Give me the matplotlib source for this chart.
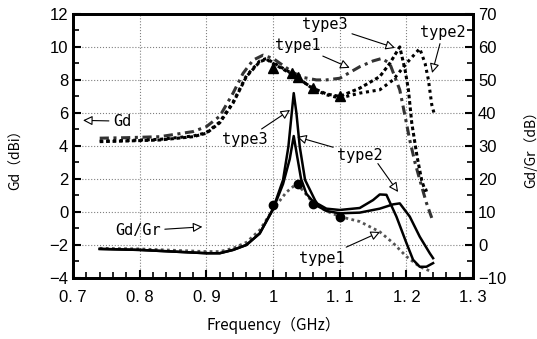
import matplotlib
matplotlib.use('Agg')
from matplotlib import pyplot as plt
from matplotlib.ticker import MultipleLocator, FixedLocator

# Gd (dBi) - eixo esquerdo
f_gd1 = [0.74, 0.78, 0.83, 0.88, 0.90, 0.92, 0.94, 0.955, 0.97, 0.985, 1.0, 1.03, 1.045,
         1.065, 1.08, 1.1, 1.13, 1.15, 1.163, 1.175, 1.19, 1.197, 1.205, 1.213, 1.223, 1.23, 1.238]
gd1 = [4.47, 4.5, 4.56, 4.87, 5.17, 5.8, 7.2, 8.4, 9.2, 9.5, 9.3, 8.45, 8.15,
       8.0, 8.0, 8.1, 8.8, 9.15, 9.3, 9.0, 7.4, 6.0, 4.36, 2.97, 1.53, 0.55, -0.36]

f_gd2 = [0.74, 0.78, 0.83, 0.88, 0.90, 0.92, 0.94, 0.96, 0.98, 0.99, 1.0, 1.03, 1.04,
         1.06, 1.08, 1.1, 1.13, 1.16, 1.18, 1.2, 1.22, 1.228, 1.233, 1.238, 1.242]
gd2 = [4.3, 4.33, 4.4, 4.6, 4.8, 5.45, 6.65, 8.25, 9.15, 9.3, 9.05, 8.35, 8.05,
       7.45, 7.1, 6.9, 7.2, 7.4, 8.0, 9.0, 9.9, 9.0, 8.0, 6.5, 5.9]

f_gd3 = [0.74, 0.78, 0.83, 0.88, 0.90, 0.92, 0.94, 0.96, 0.98, 0.99, 1.0, 1.03, 1.04,
         1.06, 1.08, 1.1, 1.13, 1.16, 1.175, 1.19, 1.198, 1.203, 1.208, 1.216, 1.223, 1.228, 1.235]
gd3 = [4.26, 4.3, 4.36, 4.56, 4.77, 5.4, 6.6, 8.2, 9.1, 9.25, 9.0, 8.3, 8.0,
       7.5, 7.15, 7.0, 7.5, 8.2, 9.0, 10.0, 8.6, 7.4, 5.4, 3.35, 1.9, 1.3, 1.4]

# Gd/Gr (dB) - eixo direito
f_r1 = [0.74, 0.8, 0.85, 0.9, 0.92, 0.94, 0.96, 0.98, 1.0, 1.02, 1.035, 1.045, 1.06,
        1.08, 1.1, 1.13, 1.16, 1.18, 1.2, 1.22, 1.238]
r1 = [-1.0, -1.2, -1.6, -2.0, -2.0, -1.0, 0.8, 4.5, 10.8, 16.0, 18.5, 16.5, 12.7,
      10.3, 8.6, 7.1, 4.0, 0.6, -3.5, -6.6, -8.1]

f_r2 = [0.74, 0.8, 0.85, 0.9, 0.92, 0.94, 0.96, 0.98, 1.0, 1.015, 1.025, 1.031, 1.036,
        1.042, 1.05, 1.065, 1.08, 1.1, 1.13, 1.16, 1.18, 1.19, 1.205, 1.22, 1.235, 1.24]
r2 = [-1.2, -1.5, -2.0, -2.5, -2.5, -1.5, 0.0, 3.5, 10.8, 18.5, 26, 33, 27,
      20, 15.5, 12.0, 10.3, 9.6, 9.8, 11.0, 12.3, 12.6, 8.6, 2.5, -2.5, -4.0]

f_r3 = [0.74, 0.8, 0.85, 0.9, 0.92, 0.94, 0.96, 0.98, 1.0, 1.015, 1.023, 1.028, 1.031,
        1.035, 1.04, 1.048, 1.065, 1.08, 1.1, 1.13, 1.15, 1.16, 1.17, 1.185, 1.2, 1.21,
        1.22, 1.23, 1.24]
r3 = [-1.2, -1.5, -2.0, -2.5, -2.5, -1.5, 0.0, 3.5, 11.0, 19.7, 29.8, 40, 46,
      40, 29.8, 19.7, 12.7, 11.0, 10.6, 11.2, 13.6, 15.3, 15.2, 8.6, 0.6, -4.5,
      -6.6, -6.6, -5.5]

# medidas
f_tri = [1.0, 1.028, 1.038, 1.06, 1.1]
gd_tri = [8.7, 8.4, 8.15, 7.5, 7.0]
f_circ = [1.0, 1.038, 1.06, 1.1]
r_circ = [12.1, 18.6, 12.3, 8.4]

x_ticks = [0.7, 0.8, 0.9, 1.0, 1.1, 1.2, 1.3]
x_labels = ['0. 7', '0. 8', '0. 9', '1', '1. 1', '1. 2', '1. 3']

plt.rcParams['font.family'] = ['Liberation Sans', 'DejaVu Sans']

fig = plt.figure(figsize=(5.37, 3.39), dpi=100)
ax = fig.add_axes([0.136, 0.180, 0.745, 0.779])
ax2 = ax.twinx()

ax.plot(f_gd1, gd1, c='#333333', lw=2.2, ls=(0, (3, 1.5, 1, 1.5)))
ax.plot(f_gd2, gd2, c='black', lw=2.2, ls=(0, (1, 1.2)))
ax.plot(f_gd3, gd3, c='black', lw=2.2, ls=(0, (1.2, 0.9)))
ax.plot(f_tri, gd_tri, ls='none', marker='^', ms=7, c='black')

ax2.plot(f_r1, r1, c='#555555', lw=2.0, ls=(0, (1, 1.2)))
ax2.plot(f_r2, r2, c='black', lw=1.8)
ax2.plot(f_r3, r3, c='black', lw=1.8)
ax2.plot(f_circ, r_circ, ls='none', marker='o', ms=6, c='black')

ax.set_xlim(0.7, 1.3)
ax.set_ylim(-4, 12)
ax2.set_ylim(-10, 70)

ax.xaxis.set_major_locator(FixedLocator(x_ticks))
ax.set_xticklabels(x_labels)
ax.xaxis.set_minor_locator(MultipleLocator(0.02))
ax.yaxis.set_major_locator(MultipleLocator(2))
ax.yaxis.set_minor_locator(MultipleLocator(1))
ax2.yaxis.set_major_locator(MultipleLocator(10))
ax2.yaxis.set_minor_locator(MultipleLocator(5))

for a in (ax, ax2):
    a.tick_params(which='major', direction='in', length=6, width=1.5, labelsize=12)
    a.tick_params(which='minor', direction='in', length=4, width=1.2)
    for s in a.spines.values():
        s.set_linewidth(2)
ax.tick_params(axis='x', pad=9)

ax.grid(True, which='major', ls=':', c='gray', lw=0.8)

jp = ['Noto Sans CJK JP', 'DejaVu Sans']
ax.set_xlabel('Frequency（GHz）', family=jp, fontsize=11, labelpad=8)
ax.set_ylabel('Gd（dBi）', family=jp, fontsize=10)
ax2.set_ylabel('Gd/Gr（dB）', family=jp, fontsize=10, labelpad=12)
ax.yaxis.set_label_coords(-0.125, 0.46)

# anotações com setas vazadas
arr = dict(arrowstyle='-|>', fc='white', ec='black', lw=0.8, mutation_scale=14,
           shrinkA=1, shrinkB=0)
mono = dict(family='DejaVu Sans Mono', fontsize=11, ha='center', va='center')

ax.annotate('Gd', xy=(0.715, 5.55), xytext=(0.76, 5.5), arrowprops=arr,
            **{**mono, 'ha': 'left'})
ax.annotate('Gd/Gr', xy=(0.894, -0.9), xytext=(0.763, -1.15), arrowprops=arr,
            **{**mono, 'ha': 'left'})
ax.annotate('type1', xy=(1.115, 8.73), xytext=(1.0375, 10.1), arrowprops=arr, **mono)
ax.annotate('type3', xy=(1.183, 9.94), xytext=(1.078, 11.33), arrowprops=arr, **mono)
ax.annotate('type2', xy=(1.2385, 8.42), xytext=(1.255, 10.9), arrowprops=arr, **mono)
ax.annotate('type3', xy=(1.0255, 6.18), xytext=(0.958, 4.36), arrowprops=arr, **mono)
ax.annotate('type2', xy=(1.036, 4.55), xytext=(1.1305, 3.45), arrowprops=arr, **mono)
ax.annotate('', xy=(1.1875, 1.21), xytext=(1.156, 3.0), arrowprops=arr)
ax.annotate('type1', xy=(1.1605, -1.21), xytext=(1.0735, -2.79), arrowprops=arr, **mono)

fig.savefig('out.png', dpi=100)
